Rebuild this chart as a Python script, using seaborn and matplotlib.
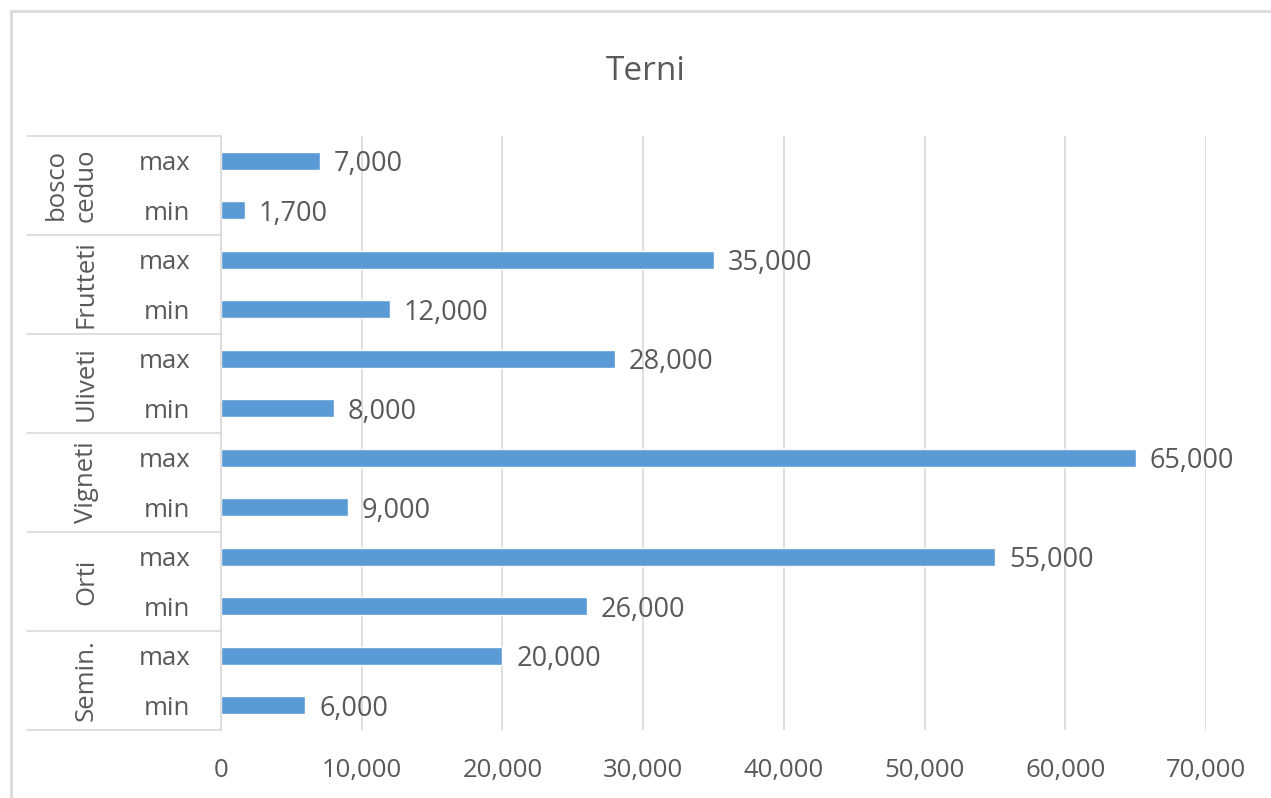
import matplotlib.pyplot as plt
import matplotlib.patches as mpatches
import seaborn as sns
import pandas as pd

groups = ['bosco\nceduo', 'Frutteti', 'Uliveti', 'Vigneti', 'Orti', 'Semin.']
levels = ['max', 'min']
max_vals = [7000, 35000, 28000, 65000, 55000, 20000]
min_vals = [1700, 12000, 8000, 9000, 26000, 6000]
x_ticks = [0, 10000, 20000, 30000, 40000, 50000, 60000, 70000]

sns.set_theme(style='white')
plt.rcParams['font.family'] = ['Open Sans', 'DejaVu Sans']

rows = []
for g, mx, mn in zip(groups, max_vals, min_vals):
    rows.append({'cat': g + '|max', 'level': 'max', 'group': g, 'valore': mx})
    rows.append({'cat': g + '|min', 'level': 'min', 'group': g, 'valore': mn})
df = pd.DataFrame(rows)

text_col = '#595959'
grid_col = '#D9D9D9'
bar_col = '#5B9BD5'

fig = plt.figure(figsize=(12.71, 7.98), dpi=100)
ax = fig.add_axes([221 / 1271, 1 - 730 / 798, 985 / 1271, 594 / 798])

sns.barplot(data=df, y='cat', x='valore', orient='h', color=bar_col,
            width=0.36, saturation=1, ax=ax)

ax.set_xlim(0, 70000)
ax.set_ylim(len(df) - 0.5, -0.5)
ax.set_xticks(x_ticks)
ax.set_xticklabels([f'{v:,}' for v in x_ticks])
ax.set_yticks(range(len(df)))
ax.set_yticklabels(df['level'])
ax.tick_params(axis='x', length=0, pad=20, labelsize=18.5, labelcolor=text_col)
ax.tick_params(axis='y', length=0, pad=22, labelsize=18.5, labelcolor=text_col)
ax.set_xlabel('')
ax.set_ylabel('')
for s in ['top', 'right', 'bottom']:
    ax.spines[s].set_visible(False)
ax.spines['left'].set_color(grid_col)
ax.spines['left'].set_linewidth(1.2)
ax.xaxis.grid(True, color=grid_col, linewidth=1.2)
ax.set_axisbelow(True)

# data labels
for i, v in enumerate(df['valore']):
    ax.annotate(f'{v:,}', (v, i), xytext=(10, 0), textcoords='offset points',
                va='center_baseline', ha='left', fontsize=19.5, color=text_col)

# multi-level category axis
trans = ax.get_yaxis_transform()
left_x = (27 - 221) / 985
for k in range(len(groups) + 1):
    y = k * 2 - 0.5
    ax.plot([left_x, 0], [y, y], color=grid_col, lw=1.2, transform=trans, clip_on=False)
for k, g in enumerate(groups):
    ax.text((99 - 221) / 985, k * 2 + 0.5, g, rotation=90, ha='right', va='center',
            fontsize=18.5, color=text_col, transform=trans, linespacing=1.3)

fig.text(646 / 1271, 1 - 72 / 798, 'Terni', ha='center', va='center',
         fontsize=24, color=text_col)

# chart border
fig.patches.append(mpatches.Rectangle((11 / 1271, -0.1), 1.2, 1 - 11 / 798 + 0.1,
                                      transform=fig.transFigure, fill=False,
                                      edgecolor=grid_col, lw=2))

fig.savefig('out.png', dpi=100)
